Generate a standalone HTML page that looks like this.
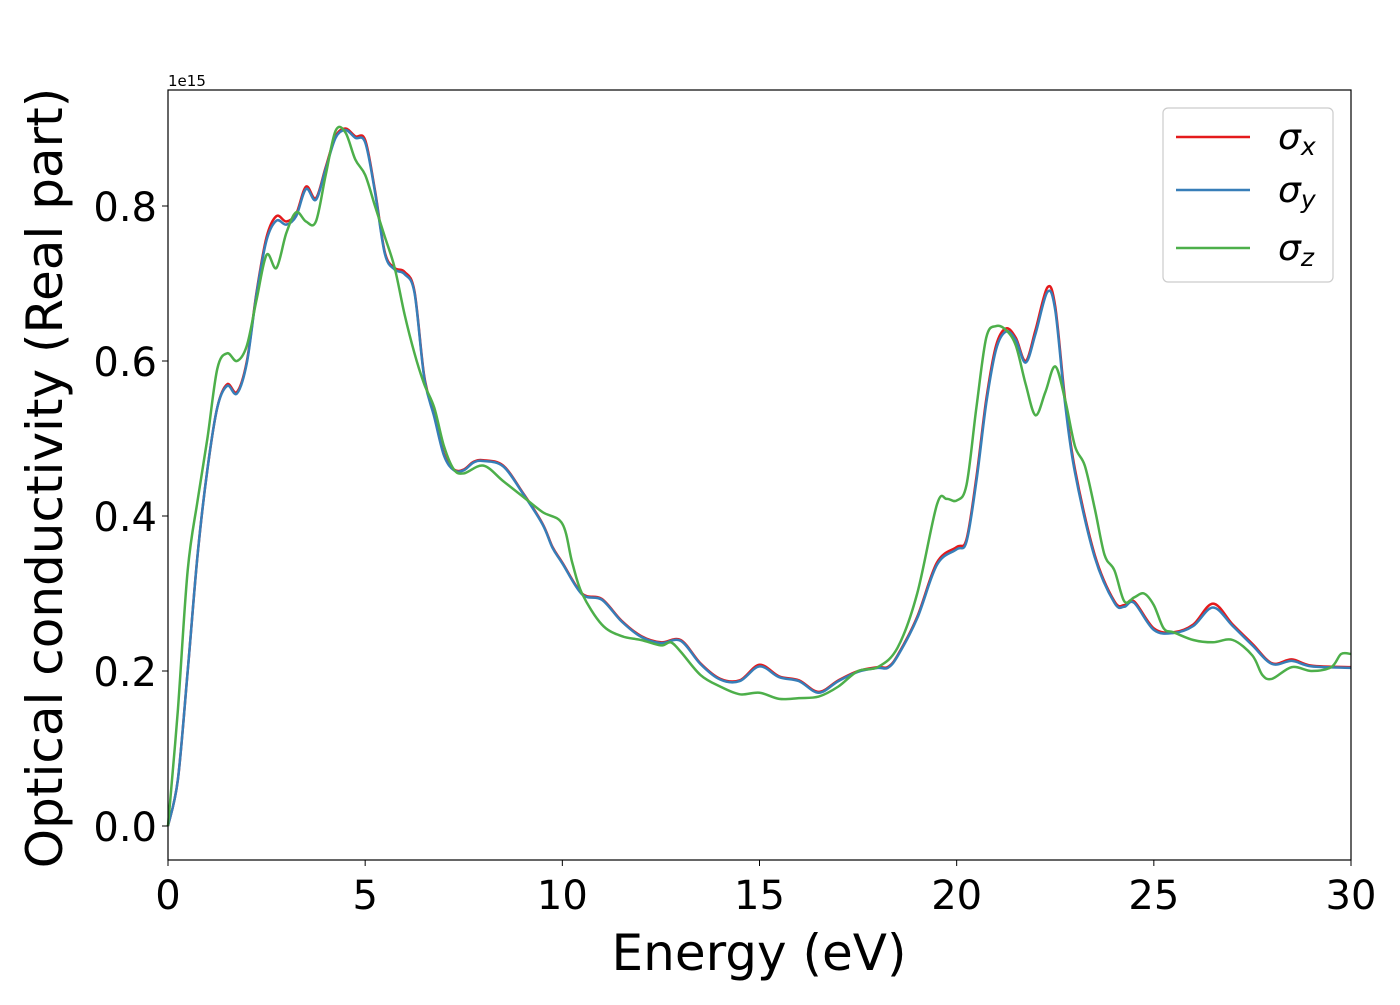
<!DOCTYPE html>
<html><head><meta charset="utf-8"><style>
html,body{margin:0;padding:0;background:#fff;}
svg text{font-family:"DejaVu Sans","Liberation Sans",sans-serif;}
</style></head><body>
<svg id="chart" width="1400" height="1000" viewBox="0 0 1400 1000" xmlns="http://www.w3.org/2000/svg">
<rect width="1400" height="1000" fill="#fff"/>
<g id="series"></g>
<rect x="168" y="90" width="1183" height="770" fill="none" stroke="#000" stroke-width="1.2"/>
<g id="xticks"></g><g id="yticks"></g>
<text x="168" y="86" font-size="15">1e15</text>
<text x="759" y="970" font-size="50" text-anchor="middle">Energy (eV)</text>
<text transform="translate(62,478) rotate(-90)" font-size="50" text-anchor="middle">Optical conductivity (Real part)</text>
<g>
<rect x="1163" y="108" width="170" height="174" rx="5" fill="#fff" stroke="#ccc" stroke-width="1.2"/>
<line x1="1176" y1="137" x2="1250" y2="137" stroke="#e41a1c" stroke-width="2.5"/>
<text x="1278" y="149" font-size="36" font-style="italic">σ<tspan font-size="25" dy="6">x</tspan></text>
<line x1="1176" y1="190" x2="1250" y2="190" stroke="#377eb8" stroke-width="2.5"/>
<text x="1278" y="202" font-size="36" font-style="italic">σ<tspan font-size="25" dy="6">y</tspan></text>
<line x1="1176" y1="248" x2="1250" y2="248" stroke="#4daf4a" stroke-width="2.5"/>
<text x="1278" y="260" font-size="36" font-style="italic">σ<tspan font-size="25" dy="6">z</tspan></text>
</g>
</svg>
<script>
const xTickLabels=[0,5,10,15,20,25,30];
const yTickLabels=["0.0","0.2","0.4","0.6","0.8"];
const yTickValues=[0,0.2,0.4,0.6,0.8];
const energyXY=[0,0.25,0.5,0.75,1,1.25,1.5,1.75,2,2.25,2.5,2.75,3,3.25,3.5,3.75,4,4.25,4.5,4.75,5,5.25,5.5,5.75,6,6.25,6.5,6.75,7,7.25,7.5,7.75,8,8.5,9,9.5,9.75,10,10.5,11,11.5,12,12.5,13,13.5,14,14.5,15,15.5,16,16.5,17,17.5,18,18.25,18.5,19,19.5,20,20.25,20.5,20.75,21,21.25,21.5,21.75,22,22.3,22.5,22.75,23,23.5,24,24.25,24.5,25,25.5,26,26.5,27,27.5,28,28.5,29,30];
const sigmaX=[0,0.06,0.2,0.35,0.46,0.54,0.57,0.56,0.6,0.69,0.76,0.787,0.78,0.79,0.825,0.81,0.85,0.89,0.9,0.89,0.885,0.82,0.74,0.72,0.715,0.69,0.58,0.53,0.48,0.46,0.46,0.47,0.472,0.465,0.43,0.39,0.36,0.34,0.3,0.293,0.265,0.245,0.237,0.24,0.21,0.19,0.188,0.208,0.193,0.188,0.173,0.188,0.2,0.205,0.205,0.22,0.27,0.34,0.36,0.37,0.45,0.55,0.62,0.642,0.63,0.6,0.64,0.695,0.67,0.55,0.46,0.35,0.29,0.285,0.29,0.255,0.25,0.26,0.287,0.26,0.235,0.21,0.215,0.207,0.205];
const sigmaY=[0,0.06,0.2,0.35,0.46,0.54,0.568,0.558,0.598,0.688,0.756,0.781,0.776,0.787,0.822,0.808,0.848,0.888,0.898,0.888,0.882,0.818,0.738,0.718,0.712,0.688,0.578,0.528,0.478,0.459,0.459,0.469,0.471,0.464,0.429,0.389,0.359,0.339,0.299,0.292,0.264,0.244,0.236,0.239,0.209,0.189,0.187,0.206,0.192,0.187,0.172,0.187,0.199,0.204,0.204,0.219,0.268,0.337,0.357,0.367,0.445,0.545,0.615,0.638,0.627,0.598,0.635,0.689,0.665,0.545,0.456,0.347,0.288,0.283,0.288,0.253,0.249,0.258,0.282,0.258,0.233,0.209,0.213,0.206,0.204];
const energyZ=[0,0.25,0.5,0.75,1,1.25,1.5,1.75,2,2.25,2.5,2.75,3,3.25,3.5,3.75,4,4.25,4.5,4.75,5,5.25,5.5,5.75,6,6.25,6.5,6.75,7,7.25,7.5,8,8.5,9,9.5,10,10.25,10.5,11,11.5,12,12.5,12.75,13,13.5,14,14.5,15,15.5,16,16.5,17,17.5,18,18.5,19,19.5,19.75,20,20.25,20.5,20.75,21,21.25,21.5,21.75,22,22.25,22.5,22.75,23,23.25,23.5,23.75,24,24.25,24.5,24.75,25,25.25,25.5,26,26.5,27,27.5,27.75,28,28.5,29,29.5,29.75,30];
const sigmaZ=[0,0.15,0.33,0.42,0.5,0.59,0.61,0.6,0.62,0.68,0.737,0.72,0.765,0.792,0.78,0.78,0.84,0.897,0.895,0.86,0.84,0.8,0.76,0.72,0.66,0.61,0.57,0.54,0.49,0.46,0.455,0.465,0.445,0.425,0.405,0.39,0.34,0.3,0.26,0.245,0.24,0.233,0.237,0.225,0.195,0.18,0.17,0.172,0.164,0.165,0.167,0.18,0.2,0.205,0.23,0.3,0.415,0.422,0.42,0.44,0.54,0.63,0.645,0.64,0.62,0.57,0.53,0.56,0.593,0.55,0.49,0.465,0.41,0.35,0.33,0.29,0.295,0.3,0.285,0.255,0.25,0.24,0.237,0.24,0.22,0.195,0.19,0.205,0.2,0.205,0.222,0.222];

const X0=168,X1=1351,Y0=826,PX_PER=775;
function xs(v){return X0+(v/30)*(X1-X0);}
function ys(v){return Y0-v*PX_PER;}
const NS="http://www.w3.org/2000/svg";
function smoothPath(xa,ya){
  const p=xa.map((x,i)=>[xs(x),ys(ya[i])]);
  let d="M"+p[0][0].toFixed(1)+","+p[0][1].toFixed(1);
  for(let i=0;i<p.length-1;i++){
    const a=p[Math.max(0,i-1)],b=p[i],c=p[i+1],e=p[Math.min(p.length-1,i+2)];
    const c1=[b[0]+(c[0]-a[0])/6,b[1]+(c[1]-a[1])/6],c2=[c[0]-(e[0]-b[0])/6,c[1]-(e[1]-b[1])/6];
    d+=" C"+c1[0].toFixed(1)+","+c1[1].toFixed(1)+" "+c2[0].toFixed(1)+","+c2[1].toFixed(1)+" "+c[0].toFixed(1)+","+c[1].toFixed(1);
  }
  return d;
}
const sg=document.getElementById("series");
[["sigma-x-line",energyXY,sigmaX,"#e41a1c"],["sigma-y-line",energyXY,sigmaY,"#377eb8"],["sigma-z-line",energyZ,sigmaZ,"#4daf4a"]].forEach(s=>{
  const p=document.createElementNS(NS,"path");
  p.setAttribute("d",smoothPath(s[1],s[2]));
  p.setAttribute("fill","none");p.setAttribute("stroke",s[3]);p.setAttribute("stroke-width","2.5");
  
  
  sg.appendChild(p);
});
const xt=document.getElementById("xticks");
xTickLabels.forEach(v=>{
  const l=document.createElementNS(NS,"line");
  l.setAttribute("x1",xs(v));l.setAttribute("x2",xs(v));l.setAttribute("y1",860);l.setAttribute("y2",866);l.setAttribute("stroke","#000");
  
  
  xt.appendChild(l);
  const t=document.createElementNS(NS,"text");
  t.setAttribute("x",xs(v));t.setAttribute("y",909);t.setAttribute("font-size","40");t.setAttribute("text-anchor","middle");
  t.textContent=v;
  
  
  xt.appendChild(t);
});
const yt=document.getElementById("yticks");
yTickValues.forEach((v,i)=>{
  const l=document.createElementNS(NS,"line");
  l.setAttribute("x1",162);l.setAttribute("x2",168);l.setAttribute("y1",ys(v));l.setAttribute("y2",ys(v));l.setAttribute("stroke","#000");
  
  
  yt.appendChild(l);
  const t=document.createElementNS(NS,"text");
  t.setAttribute("x",157);t.setAttribute("y",ys(v)+15);t.setAttribute("font-size","40");t.setAttribute("text-anchor","end");
  t.textContent=yTickLabels[i];
  
  
  yt.appendChild(t);
});
</script>
</body></html>
